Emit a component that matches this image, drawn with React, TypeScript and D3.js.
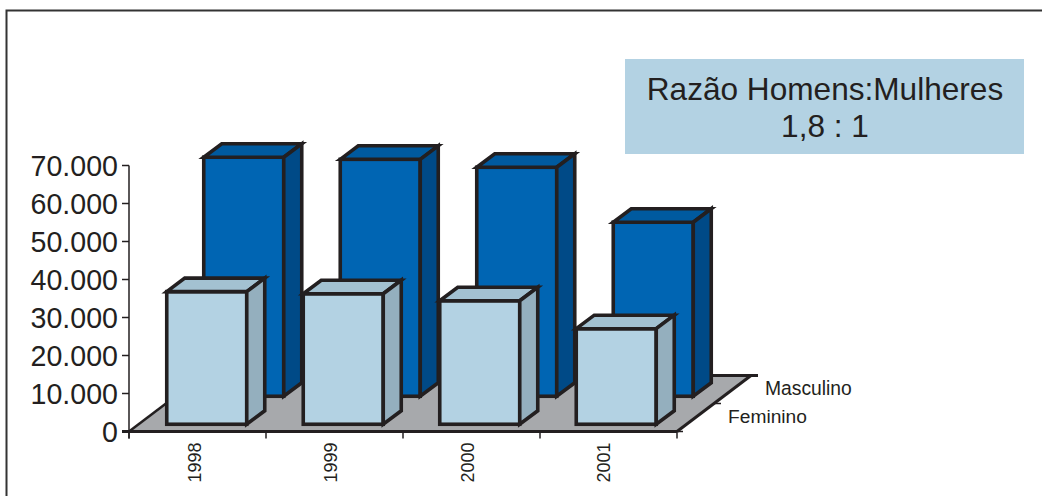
import React from "react";
import * as d3 from "d3";

const years = ["1998", "1999", "2000", "2001"];
const seriesNames = ["Feminino", "Masculino"];
const feminino = [34900, 34350, 32500, 25150];
const masculino = [62900, 62350, 60250, 45800];
const yTicks = [0, 10000, 20000, 30000, 40000, 50000, 60000, 70000];
const boxLines = ["Razão Homens:Mulheres", "1,8 : 1"];

const FONT = "'Liberation Sans', Arial, sans-serif";
const INK = "#231f20";
const palette = [
  { front: "#b3d2e3", top: "#a3c1d1", side: "#94afbe" },
  { front: "#0065b3", top: "#005a9f", side: "#004a87" },
];

const x = d3.scaleBand<string>().domain(years).range([129, 677]);
const barX = d3.scaleBand<string>().domain(years).range([129, 675]);
const y = d3.scaleLinear().domain([0, 70000]).range([431.5, 165.5]);
const depthX = d3.scaleBand<string>().domain(seriesNames).range([0, 74]);
const depthY = d3.scaleBand<string>().domain(seriesNames).range([0, -56]);
const fmt = (v: number) => d3.format(",")(v).replace(/,/g, ".");
const poly = (p: number[][]) => p.map((q) => q.join(",")).join(" ");

const barW = 80;
const barDX = 18;
const barDY = -13.5;

function Bar({ year, series, value, colors }: any) {
  const cx = barX(year)! + barX.bandwidth() / 2;
  const l = cx + depthX(series)! + depthX.bandwidth() / 2 - barDX / 2 - barW / 2;
  const base = 431.5 + depthY(series)! + depthY.bandwidth() / 2 - barDY / 2;
  const h = y(0) - y(value);
  const r = l + barW;
  const t = base - h;
  return (
    <g stroke={INK} strokeWidth={3.6} strokeLinejoin="miter">
      <rect x={l} y={t} width={barW} height={h} fill={colors.front} />
      <polygon points={poly([[l, t], [l + barDX, t + barDY], [r + barDX, t + barDY], [r, t]])} fill={colors.top} />
      <polygon points={poly([[r, t], [r + barDX, t + barDY], [r + barDX, base + barDY], [r, base]])} fill={colors.side} />
    </g>
  );
}

export default function App() {
  const x0 = 129, x1 = 677, y0 = y(0);
  const dx = depthX.range()[1], dy = depthY.range()[1];
  return (
    <svg width={1042} height={496} style={{ position: "absolute", left: 0, top: 0, background: "#fff" }} fontFamily={FONT}>
      <path d="M6.5,496V10.5H1042" fill="none" stroke="#333" strokeWidth={2} />
      <rect x={625} y={59} width={399} height={95} fill="#b3d2e3" />
      {boxLines.map((s, i) => (
        <text key={s} x={825} y={100 + i * 37} textAnchor="middle" fontSize={31.6} fill={INK}>{s}</text>
      ))}

      <polygon points={poly([[x0, y0], [x1, y0], [x1 + dx, y0 + dy], [x0 + dx, y0 + dy]])} fill="#a7a9ac" />
      <line x1={x0} y1={y0} x2={x0 + dx} y2={y0 + dy} stroke={INK} strokeWidth={2.5} />
      <line x1={x0 + dx} y1={y0 + dy} x2={x1 + dx + 7} y2={y0 + dy} stroke={INK} strokeWidth={3} />

      {years.map((yr, i) => (
        <Bar key={"m" + yr} year={yr} series="Masculino" value={masculino[i]} colors={palette[1]} />
      ))}
      {years.map((yr, i) => (
        <Bar key={"f" + yr} year={yr} series="Feminino" value={feminino[i]} colors={palette[0]} />
      ))}

      <line x1={x0 - 7} y1={y0} x2={x1} y2={y0} stroke={INK} strokeWidth={3} />
      <line x1={x1} y1={y0} x2={x1 + dx} y2={y0 + dy} stroke={INK} strokeWidth={3} />
      <line x1={x0} y1={y(70000)} x2={x0} y2={y0 + 7} stroke={INK} strokeWidth={1.5} />
      {yTicks.map((t) => (
        <g key={t}>
          <line x1={x0 - 7} x2={x0} y1={y(t)} y2={y(t)} stroke={INK} strokeWidth={1.5} />
          <text x={118} y={y(t) + 10.5} textAnchor="end" fontSize={28.6} fill={INK}>{fmt(t)}</text>
        </g>
      ))}
      {[...years.map((yr) => x(yr)!), x1].map((px) => (
        <line key={px} x1={px} x2={px} y1={y0} y2={y0 + 7} stroke={INK} strokeWidth={1.5} />
      ))}
      {years.map((yr) => (
        <text key={yr} transform={`translate(${barX(yr)! + barX.bandwidth() / 2 + 3.5},462.5) rotate(-90)`} textAnchor="middle" fontSize={18} fill={INK}>{yr}</text>
      ))}
      {[0.5, 1].map((f) => (
        <line key={f} x1={x1 + dx * f} x2={x1 + dx * f + 7} y1={y0 + dy * f} y2={y0 + dy * f} stroke={INK} strokeWidth={1.5} />
      ))}
      <line x1={x1} x2={x1 + 6} y1={y0} y2={y0} stroke={INK} strokeWidth={1.5} />
      <text x={765} y={395} fontSize={19.3} fill={INK}>Masculino</text>
      <text x={728} y={423} fontSize={19.2} fill={INK}>Feminino</text>
    </svg>
  );
}
